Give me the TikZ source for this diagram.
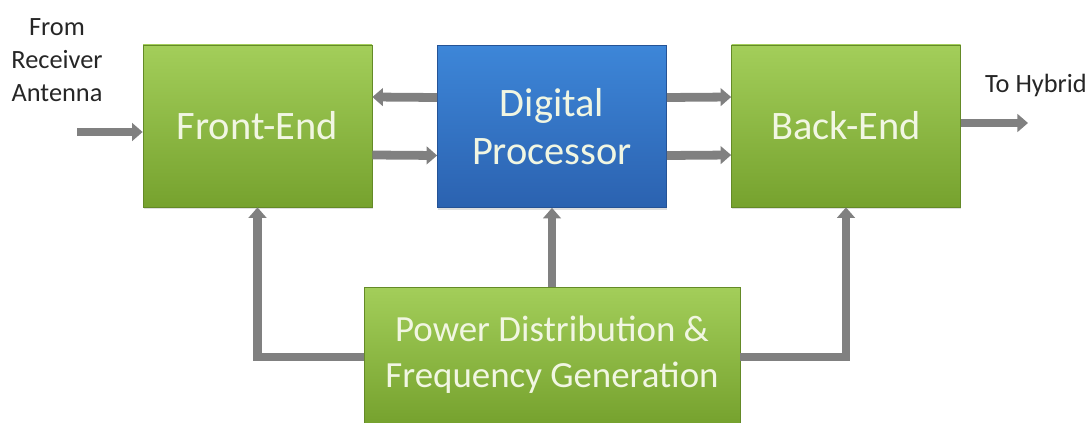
\documentclass[tikz,border=0pt]{standalone}
\usepackage{fontspec}
\setmainfont{Carlito}
\usetikzlibrary{arrows.meta,shadows}
\definecolor{leafhi}{HTML}{A3CE5A}
\definecolor{leaflo}{HTML}{76A22E}
\definecolor{seahi}{HTML}{3D86D8}
\definecolor{sealo}{HTML}{2B62B0}
\definecolor{pipe}{HTML}{808080}
\definecolor{chalk}{HTML}{F1F6E2}
\definecolor{ink}{HTML}{262626}
\begin{document}
\begin{tikzpicture}[line join=miter,
	blk/.style={minimum width=4.58cm,minimum height=3.24cm,align=center,text=chalk,
		font=\fontsize{23}{27}\selectfont,drop shadow={opacity=0.25,shadow xshift=0.4pt,shadow yshift=-1.4pt}},
	grn/.style={blk,top color=leafhi,bottom color=leaflo,draw=leaflo!85!black,thin},
	blu/.style={blk,top color=seahi,bottom color=sealo,draw=sealo!85!black,thin},
	lbl/.style={align=center,text=ink,font=\fontsize{15}{18.8}\selectfont},
	feed/.style={draw=pipe,line width=5pt,-{Triangle[width=10pt,length=6pt]}}]
	\useasboundingbox (0,0) rectangle (21.82,-8.46);
	\node[grn] (fe) at (5.15,-2.52) {Front-End};
	\node[blu] (dp) at (11.04,-2.53) {Digital\\Processor};
	\node[grn] (be) at (16.92,-2.52) {Back-End};
	\node[grn,minimum width=7.52cm,minimum height=2.72cm,font=\fontsize{21}{26.3}\selectfont] (pw) at (11.04,-7.1) {Power Distribution \&\\Frequency Generation};
	\node[lbl] (src) at (1.14,-1.2) {From\\Receiver\\Antenna};
	\node[lbl] (dst) at (20.72,-1.7) {To Hybrid};
	\coordinate (in) at (1.54,-2.64);
	\coordinate (out) at (20.56,-2.46);
	\draw[feed] (in) -- (in -| fe.west);
	\draw[feed] ([yshift=0.58cm]dp.west) -- ([yshift=0.58cm]fe.east);
	\draw[feed] ([yshift=-0.58cm]fe.east) -- ([yshift=-0.58cm]dp.west);
	\draw[feed] ([yshift=0.58cm]dp.east) -- ([yshift=0.58cm]be.west);
	\draw[feed] ([yshift=-0.58cm]dp.east) -- ([yshift=-0.58cm]be.west);
	\draw[feed] (be.east |- out) -- (out);
	\draw[feed] (pw.north) -- (dp.south);
	\draw[feed] ([yshift=-0.04cm]pw.west) -| (fe.south);
	\draw[feed] ([yshift=-0.04cm]pw.east) -| (be.south);
\end{tikzpicture}
\end{document}
